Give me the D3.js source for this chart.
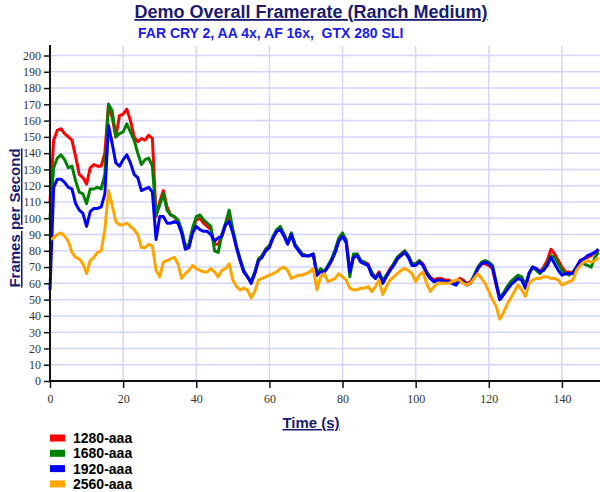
<!DOCTYPE html>
<html><head><meta charset="utf-8">
<script src="https://cdn.jsdelivr.net/npm/d3@7"></script>
<style>
html,body{margin:0;padding:0;background:#fff;}
svg{display:block;}
.tick text{font-family:"Liberation Serif","Times New Roman",serif !important;}
</style></head>
<body><svg id="chart" width="600" height="492"></svg>
<script>
const title = "Demo Overall Framerate (Ranch Medium)";
const subtitle = "FAR CRY 2, AA 4x, AF 16x,  GTX 280 SLI";
const xLabel = "Time (s)";
const yLabel = "Frames per Second";
const seriesNames = ["1280-aaa", "1680-aaa", "1920-aaa", "2560-aaa"];
const seriesColors = ["#ff0000", "#008000", "#0000ff", "#ffa500"];
const yTicks = d3.range(0, 201, 10);
const xTicks = [0, 20, 40, 60, 80, 100, 120, 140];
const times = d3.range(0, 151, 1);

const v1280 = [110,148,154,155,152,150,148,138,127,125,121,131,133,132,132,140,170,162,150,163,
164,167,160,150,147,149,148,151,149,101,110,117,107,102,101,98,92,82,83,93,
99,100,97,95,93,84,84,89,96,102,92,82,74,67,64,61,66,74,77,81,
83,88,92,94,90,85,90,84,81,78,77,77,78,65,68,67,70,74,80,87,
90,87,67,77,78,74,73,72,66,64,67,61,65,69,72,76,78,80,77,72,
72,74,72,67,64,62,63,63,62,62,61,60,63,62,60,61,64,69,72,72,
71,69,59,50,53,57,60,62,64,63,58,66,70,69,67,70,74,81,78,74,
70,67,67,66,70,74,75,76,77,79,80];

const v1680 = [100,131,137,139,136,131,132,123,116,115,109,118,118,119,118,127,170,166,150,152,
153,158,153,148,140,133,136,137,132,102,108,115,105,102,101,99,93,83,84,94,
101,102,99,97,95,80,79,90,97,105,93,83,75,68,64,61,67,75,77,81,
83,89,93,95,90,85,91,84,81,78,77,77,78,66,69,67,71,75,81,88,
91,86,64,78,78,74,73,71,67,63,66,62,65,68,72,76,78,80,77,72,
72,74,71,67,63,61,62,62,61,61,60,59,62,61,59,60,65,70,73,74,
73,71,61,51,54,58,61,63,65,64,59,66,70,68,66,69,72,77,76,72,
68,66,65,67,70,73,72,71,70,76,79];

const v1920 = [56,119,124,124,122,119,118,109,105,103,95,104,106,106,107,115,157,146,134,132,
136,139,134,127,125,117,118,119,116,87,101,101,97,97,98,97,91,81,82,91,
95,93,92,92,90,86,88,89,96,98,91,82,74,67,64,60,66,74,76,80,
82,88,92,93,89,84,90,83,80,77,77,77,78,65,67,67,70,74,79,86,
89,85,67,76,77,73,72,71,65,63,66,60,64,68,71,75,77,79,76,71,
71,73,71,66,63,61,62,62,61,61,60,59,62,61,59,60,64,69,72,73,
72,70,60,50,53,56,59,61,63,62,57,66,70,69,67,68,71,76,72,68,
65,66,66,66,70,74,75,77,78,79,81];

const v2560 = [87,88,90,91,89,86,79,76,75,72,66,74,76,79,80,93,117,108,98,96,
96,97,95,93,90,82,82,84,83,68,64,73,74,75,76,72,63,66,68,71,
69,68,67,67,69,67,64,68,69,72,62,58,56,57,56,51,55,62,63,64,
65,66,67,69,70,68,63,64,65,65,66,67,69,56,64,66,61,62,63,66,
64,62,57,56,56,57,57,58,55,58,62,53,58,62,64,66,68,69,68,66,
61,65,67,60,55,58,60,60,60,60,61,62,62,60,59,60,63,66,63,60,
55,50,46,38,42,47,51,55,59,56,52,60,62,63,63,64,64,63,63,62,
59,60,61,62,68,71,73,74,73,74,76];

const seriesValues = [v1280, v1680, v1920, v2560];

const svg = d3.select("#chart");
const plotLeft = 50, plotRight = 598.5, plotTop = 46, plotBottom = 381;
const x = d3.scaleLinear().domain([0, 150]).range([plotLeft, plotRight]);
const y = d3.scaleLinear().domain([0, 200]).range([plotBottom, 55.5]);

// gridlines
const grid = svg.append("g");
grid.selectAll("line.h").data(yTicks.filter(d => d > 0)).join("line")
  .attr("x1", plotLeft).attr("x2", 600)
  .attr("y1", d => y(d)).attr("y2", d => y(d))
  .attr("stroke", "#d4d4ff").attr("stroke-width", 1.5);
grid.selectAll("line.v").data(xTicks.filter(d => d > 0)).join("line")
  .attr("x1", d => x(d)).attr("x2", d => x(d))
  .attr("y1", plotTop).attr("y2", plotBottom)
  .attr("stroke", "#d4d4ff").attr("stroke-width", 1.5);

// lines
const line = d3.line().x((d, i) => x(times[i])).y(d => y(d));
seriesValues.forEach((vals, k) => {
  svg.append("path").datum(vals)
    .attr("d", line)
    .attr("fill", "none")
    .attr("stroke", seriesColors[k])
    .attr("stroke-width", 3)
    .attr("stroke-linejoin", "round");
});

// axes
const serif = "'Liberation Serif', 'Times New Roman', serif";
const yAxis = d3.axisLeft(y).tickValues(yTicks).tickSize(6).tickPadding(3);
const gy = svg.append("g").attr("transform", `translate(${plotLeft},0)`).call(yAxis)
  .attr("font-family", serif).attr("font-size", 12);
gy.select(".domain").remove();
gy.selectAll(".tick line").attr("stroke", "#111").attr("stroke-width", 1.5);
gy.selectAll(".tick text").attr("fill", "#333");

const xAxis = d3.axisBottom(x).tickValues(xTicks).tickSize(7).tickPadding(6);
const gx = svg.append("g").attr("transform", `translate(0,${plotBottom})`).call(xAxis)
  .attr("font-family", serif).attr("font-size", 12);
gx.select(".domain").remove();
gx.selectAll(".tick line").attr("stroke", "#111").attr("stroke-width", 1.5);
gx.selectAll(".tick text").attr("fill", "#333");

svg.append("line").attr("x1", plotLeft).attr("x2", plotLeft).attr("y1", plotTop - 1).attr("y2", plotBottom + 1)
  .attr("stroke", "#111").attr("stroke-width", 2);
svg.append("line").attr("x1", plotLeft - 1).attr("x2", 600).attr("y1", plotBottom).attr("y2", plotBottom)
  .attr("stroke", "#111").attr("stroke-width", 2);

// titles
const sans = "'Liberation Sans', Arial, sans-serif";
svg.append("text").attr("x", 311).attr("y", 18).attr("text-anchor", "middle")
  .attr("font-family", sans).attr("font-weight", "bold").attr("font-size", 18)
  .attr("fill", "#1a1a6e").style("text-decoration", "underline").text(title);
svg.append("text").attr("x", 138).attr("y", 38).attr("text-anchor", "start")
  .attr("font-family", sans).attr("font-weight", "bold").attr("font-size", 14)
  .attr("fill", "#1a1aee").style("white-space", "pre").text(subtitle);
svg.append("text").attr("x", 311).attr("y", 428).attr("text-anchor", "middle")
  .attr("font-family", sans).attr("font-weight", "bold").attr("font-size", 15)
  .attr("fill", "#1a1a6e").style("text-decoration", "underline").text(xLabel);
svg.append("text").attr("transform", "translate(20,218) rotate(-90)").attr("text-anchor", "middle")
  .attr("font-family", sans).attr("font-weight", "bold").attr("font-size", 15)
  .attr("fill", "#1a1a6e").style("text-decoration", "underline").text(yLabel);

// legend
const leg = svg.append("g");
seriesNames.forEach((name, k) => {
  const cy = 438 + k * 15.3;
  leg.append("rect").attr("x", 50).attr("y", cy - 3.5).attr("width", 15).attr("height", 7)
    .attr("fill", seriesColors[k]);
  leg.append("text").attr("x", 73).attr("y", cy + 5).attr("font-family", sans)
    .attr("font-weight", "bold").attr("font-size", 14).attr("fill", "#000").text(name);
});
</script></body></html>
